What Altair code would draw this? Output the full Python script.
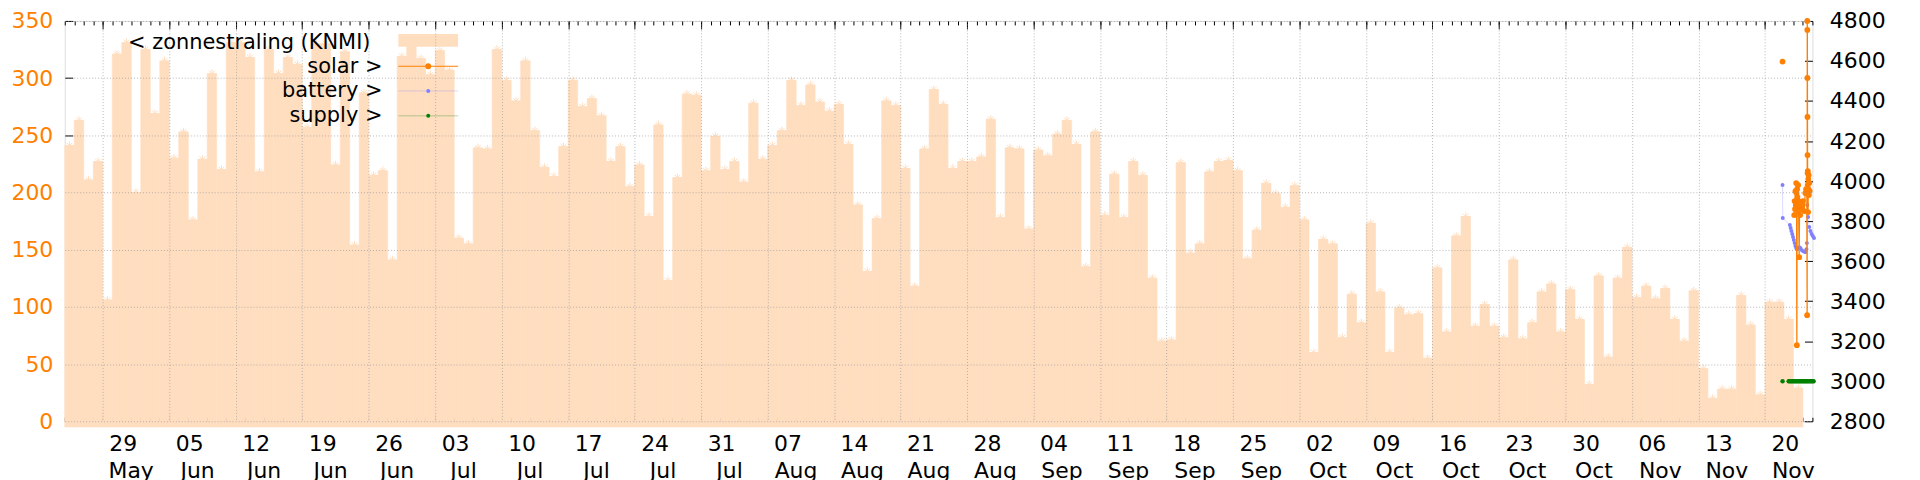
import altair as alt
import pandas as pd

# ---------------- data ----------------
RAD_START = "2023-05-25"          # first day of the daily radiation series
radiation = [241, 263, 211, 227, 106, 321, 331, 200, 325, 269,
             315, 230, 253, 176, 229, 304, 220, 331, 331, 318,
             218, 325, 304, 318, 312, 257, 330, 330, 224, 323,
             154, 287, 215, 219, 141, 319, 328, 317, 303, 324,
             307, 160, 155, 239, 238, 325, 298, 280, 315, 254,
             222, 214, 240, 298, 275, 282, 267, 227, 240, 205,
             224, 179, 259, 123, 213, 286, 285, 219, 249, 220,
             227, 209, 278, 229, 241, 254, 298, 276, 294, 279,
             271, 277, 242, 189, 131, 177, 280, 276, 221, 118,
             238, 290, 277, 221, 227, 227, 231, 264, 178, 239,
             238, 168, 237, 232, 251, 263, 242, 135, 253, 180,
             216, 178, 227, 215, 125, 70, 71, 226, 147, 155,
             218, 227, 228, 219, 142, 167, 208, 199, 187, 206,
             176, 60, 159, 155, 73, 111, 86, 173, 113, 60,
             99, 93, 94, 55, 134, 78, 162, 179, 83, 102,
             83, 73, 141, 72, 86, 113, 120, 78, 115, 89,
             32, 127, 56, 125, 152, 108, 118, 107, 116, 89,
             70, 114, 46, 20, 28, 28, 110, 84, 23, 104,
             104, 89, 29]

x_domain = ["2023-05-25", "2023-11-25"]
week_ticks = ["2023-05-29", "2023-06-05", "2023-06-12", "2023-06-19", "2023-06-26",
              "2023-07-03", "2023-07-10", "2023-07-17", "2023-07-24", "2023-07-31",
              "2023-08-07", "2023-08-14", "2023-08-21", "2023-08-28", "2023-09-04",
              "2023-09-11", "2023-09-18", "2023-09-25", "2023-10-02", "2023-10-09",
              "2023-10-16", "2023-10-23", "2023-10-30", "2023-11-06", "2023-11-13",
              "2023-11-20"]
left_ticks = [0, 50, 100, 150, 200, 250, 300, 350]
right_ticks = [2800, 3000, 3200, 3400, 3600, 3800, 4000, 4200, 4400, 4600, 4800]

solar_seg = [0] + [1] * 40
solar_time = ["2023-11-21T20:30",
              "2023-11-23T02:00", "2023-11-23T03:00", "2023-11-23T04:00", "2023-11-23T05:00",
              "2023-11-23T06:00", "2023-11-23T07:00", "2023-11-23T08:00", "2023-11-23T08:40",
              "2023-11-23T09:20", "2023-11-23T10:00", "2023-11-23T11:00", "2023-11-23T12:00",
              "2023-11-23T13:00", "2023-11-23T14:30", "2023-11-23T15:30", "2023-11-23T17:00",
              "2023-11-23T19:00", "2023-11-23T21:00", "2023-11-24T00:00", "2023-11-24T03:00",
              "2023-11-24T06:00", "2023-11-24T08:00", "2023-11-24T10:00", "2023-11-24T10:40",
              "2023-11-24T11:00", "2023-11-24T11:10", "2023-11-24T11:20", "2023-11-24T11:30",
              "2023-11-24T11:40", "2023-11-24T11:50", "2023-11-24T12:00", "2023-11-24T12:20",
              "2023-11-24T12:40", "2023-11-24T13:00", "2023-11-24T13:30", "2023-11-24T14:00",
              "2023-11-24T14:30", "2023-11-24T15:00", "2023-11-24T16:00", "2023-11-24T17:00"]
solar_value = [4597,
               3830, 3900, 3860, 3950,
               3880, 3990, 3940, 3180,
               3960, 3920, 3850, 3980,
               3900, 3620, 3870, 3830,
               3860, 3880, 3900, 3850,
               3940, 3960, 3950, 3330,
               4800, 4755, 4515, 4320,
               4130, 4040, 3980, 4050,
               3940, 3845, 4010, 3960,
               4030, 3930, 3990, 3950]

battery_time = ["2023-11-21T20:30", "2023-11-21T21:00", "2023-11-22T15:00", "2023-11-22T17:00",
                "2023-11-22T19:00", "2023-11-22T21:00", "2023-11-22T23:00", "2023-11-23T01:00",
                "2023-11-23T03:00", "2023-11-23T05:00", "2023-11-23T07:00", "2023-11-23T09:00",
                "2023-11-23T12:00", "2023-11-23T15:00", "2023-11-23T18:00", "2023-11-23T21:00",
                "2023-11-24T00:00", "2023-11-24T03:00", "2023-11-24T06:00", "2023-11-24T09:00",
                "2023-11-24T10:00", "2023-11-24T11:00", "2023-11-24T13:00", "2023-11-24T16:00",
                "2023-11-24T19:00", "2023-11-24T22:00", "2023-11-25T01:00", "2023-11-25T04:00"]
battery_value = [3980, 3815, 3780, 3765,
                 3750, 3735, 3720, 3705,
                 3690, 3675, 3665, 3660,
                 3665, 3670, 3665, 3655,
                 3650, 3648, 3645, 3660,
                 3690, 3880, 3820, 3770,
                 3750, 3735, 3725, 3715]

supply_seg = [0] + [1] * 22
supply_time = ["2023-11-21T20:30",
               "2023-11-22T12:00", "2023-11-22T15:00", "2023-11-22T18:00", "2023-11-22T21:00",
               "2023-11-23T00:00", "2023-11-23T03:00", "2023-11-23T06:00", "2023-11-23T09:00",
               "2023-11-23T12:00", "2023-11-23T15:00", "2023-11-23T18:00", "2023-11-23T21:00",
               "2023-11-24T00:00", "2023-11-24T03:00", "2023-11-24T06:00", "2023-11-24T09:00",
               "2023-11-24T12:00", "2023-11-24T15:00", "2023-11-24T18:00", "2023-11-24T21:00",
               "2023-11-25T00:00", "2023-11-25T03:00"]
supply_value = [3000] + [3000] * 22

# ---------------- helpers ----------------
DAY = 86400000


def ms(s):
    return int(pd.Timestamp(s, tz="UTC").value // 10**6)


t0 = ms(RAD_START)
bars = pd.DataFrame({
    "start": [t0 + i * DAY for i in range(len(radiation))],
    "end": [t0 + (i + 1) * DAY for i in range(len(radiation))],
    "mid": [t0 + i * DAY + DAY // 2 for i in range(len(radiation))],
    "value": radiation,
    "base": [-5] * len(radiation),
})
day_ticks = [ms(x_domain[0]) + i * DAY
             for i in range(int((ms(x_domain[1]) - ms(x_domain[0])) / DAY) + 1)]
week_ms = [ms(d) for d in week_ticks]
XDOM = [ms(x_domain[0]), ms(x_domain[1])]

solar = pd.DataFrame({"t": [ms(t) for t in solar_time], "v": solar_value, "seg": solar_seg})
battery = pd.DataFrame({"t": [ms(t) for t in battery_time], "v": battery_value})
supply = pd.DataFrame({"t": [ms(t) for t in supply_time], "v": supply_value, "seg": supply_seg})

W, H = 1755, 402
FONT = "DejaVu Sans"
PEACH = "#ffdec0"
ORANGE = "#ff7f00"
BLUE = "#8080ff"
GREEN = "#008000"
GRID = dict(grid=True, gridColor="#999999", gridOpacity=0.7, gridDash=[1, 2], gridWidth=1)
STAR = "M-1,0L1,0M0,-1L0,1M-0.7,-0.7L0.7,0.7M-0.7,0.7L0.7,-0.7"

xs = alt.Scale(type="utc", domain=XDOM)
yl = alt.Scale(domain=[0, 350])
yr = alt.Scale(domain=[2800, 4800])

# ---------------- layers ----------------
bar_layer = alt.Chart(bars).mark_rect(color=PEACH, stroke=PEACH, strokeWidth=0.6, clip=False).encode(
    x=alt.X("start:T", scale=xs, axis=alt.Axis(
        orient="bottom", values=week_ms, title=None, ticks=False, tickSize=0, domain=False,
        labelExpr="utcFormat(datum.value, '%d')",
        labelFont=FONT, labelFontSize=22, labelColor="black", labelOffset=20,
        labelPadding=12, labelFlush=False, labelOverlap=False,
        labelBound=False, zindex=1, **GRID)),
    x2="end:T",
    y=alt.Y("value:Q", scale=yl, axis=alt.Axis(
        orient="left", values=left_ticks, title=None, ticks=False, tickSize=0, domain=False,
        labelFont=FONT, labelFontSize=22, labelColor=ORANGE, labelPadding=12,
        labelFlush=False, labelOverlap=False, zindex=1, **GRID)),
    y2="base:Q",
)

star_layer = alt.Chart(bars).mark_point(shape=STAR, filled=False, color=PEACH, size=70,
                                        strokeWidth=1, opacity=1).encode(
    x=alt.X("mid:T", scale=xs, axis=None),
    y=alt.Y("value:Q", scale=yl, axis=None),
)

one = pd.DataFrame({"t": [XDOM[0]], "v": [0], "w": [2800]})

month_layer = alt.Chart(one).mark_point(opacity=0).encode(
    x=alt.X("t:T", scale=xs, axis=alt.Axis(
        orient="bottom", values=week_ms, title=None, ticks=False, tickSize=0, domain=False,
        grid=False, labelExpr="utcFormat(datum.value, '%b')",
        labelFont=FONT, labelFontSize=22, labelColor="black", labelOffset=28,
        labelPadding=39, labelFlush=False, labelOverlap=False, labelBound=False)),
)


def tick_layer(x_orient, x_values, x_size, y_field=None, y_scale=None, y_orient=None, y_values=None):
    enc = dict(
        x=alt.X("t:T", scale=xs, axis=alt.Axis(
            orient=x_orient, offset=-H, values=x_values, tickSize=x_size, tickColor="black",
            tickWidth=1, labels=False, domain=False, grid=False, title=None)),
    )
    if y_field is not None:
        enc["y"] = alt.Y(y_field, scale=y_scale, axis=alt.Axis(
            orient=y_orient, offset=-W, values=y_values, tickSize=8, tickColor="black",
            tickWidth=1, labels=False, domain=False, grid=False, title=None))
    return alt.Chart(one).mark_point(opacity=0).encode(**enc)


t1 = tick_layer("top", week_ms, 8, "v:Q", yl, "right", left_ticks)
t2 = tick_layer("top", day_ticks, 4, "w:Q", yr, "left", right_ticks)
t3 = tick_layer("bottom", week_ms, 8)
t4 = tick_layer("bottom", day_ticks, 4)

right_axis = alt.Axis(orient="right", values=right_ticks, title=None, ticks=False, tickSize=0,
                      domain=False, grid=False, format="d", labelFont=FONT, labelFontSize=22,
                      labelColor="black", labelPadding=17, labelFlush=False, labelOverlap=False)

battery_line = alt.Chart(battery).mark_line(color=BLUE, opacity=0.3, strokeWidth=1).encode(
    x=alt.X("t:T", scale=xs, axis=None), y=alt.Y("v:Q", scale=yr, axis=None))
battery_pts = alt.Chart(battery).mark_circle(color=BLUE, opacity=1, size=16).encode(
    x=alt.X("t:T", scale=xs, axis=None), y=alt.Y("v:Q", scale=yr, axis=None))

supply_line = alt.Chart(supply).mark_line(color=GREEN, opacity=0.3, strokeWidth=1).encode(
    x=alt.X("t:T", scale=xs, axis=None), y=alt.Y("v:Q", scale=yr, axis=None), detail="seg:N")
supply_pts = alt.Chart(supply).mark_circle(color=GREEN, opacity=1, size=20).encode(
    x=alt.X("t:T", scale=xs, axis=None), y=alt.Y("v:Q", scale=yr, axis=None))

solar_line = alt.Chart(solar).mark_line(color=ORANGE, strokeWidth=1.3).encode(
    x=alt.X("t:T", scale=xs, axis=None), y=alt.Y("v:Q", scale=yr, axis=None), detail="seg:N")
solar_pts = alt.Chart(solar).mark_circle(color=ORANGE, opacity=1, size=34).encode(
    x=alt.X("t:T", scale=xs, axis=None), y=alt.Y("v:Q", scale=yr, axis=right_axis))

# ---------------- legend (inside, top-left) ----------------
leg = pd.DataFrame({"i": [0]})
legend_labels = ["< zonnestraling (KNMI)", "solar >", "battery >", "supply >"]


def ltext(txt, x, y):
    return alt.Chart(leg).mark_text(text=txt, align="right", baseline="middle", font=FONT,
                                    fontSize=21, color="black").encode(x=alt.value(x), y=alt.value(y))


def lrule(color, y, opacity):
    return alt.Chart(leg).mark_rule(color=color, strokeWidth=1, opacity=opacity).encode(
        x=alt.value(335), x2=alt.value(395), y=alt.value(y))


def ldot(color, y, size):
    return alt.Chart(leg).mark_circle(color=color, opacity=1, size=size).encode(
        x=alt.value(365), y=alt.value(y))


legend = [
    alt.Chart(leg).mark_rect(color=PEACH).encode(
        x=alt.value(335), x2=alt.value(395), y=alt.value(13), y2=alt.value(26)),
    ltext(legend_labels[0], 307, 22),
    ltext(legend_labels[1], 319, 46),
    lrule(ORANGE, 45.5, 1.0), ldot(ORANGE, 45.5, 34),
    ltext(legend_labels[2], 319, 70.5),
    lrule(BLUE, 70.3, 0.3), ldot(BLUE, 70.3, 16),
    ltext(legend_labels[3], 319, 95.5),
    lrule(GREEN, 95.3, 0.3), ldot(GREEN, 95.3, 16),
]

chart = alt.layer(
    bar_layer, star_layer, month_layer, t1, t2, t3, t4,
    battery_line, battery_pts, supply_line, supply_pts, solar_line, solar_pts,
    *legend,
).resolve_scale(x="independent", y="independent").properties(
    width=W, height=H,
    autosize=alt.AutoSizeParams(type="none"),
    padding={"left": 57, "top": 12, "right": 100, "bottom": 60},
).configure_view(stroke="black", strokeWidth=1.2).configure(background="white")

chart.save("out.html", embed_options={"renderer": "svg", "actions": False})
